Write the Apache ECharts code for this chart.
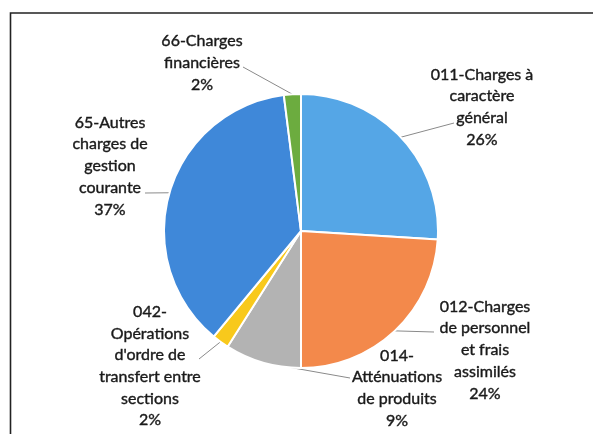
<!DOCTYPE html>
<html>
<head>
<meta charset="utf-8">
<script src="https://cdn.jsdelivr.net/npm/echarts@6/dist/echarts.min.js"></script>
<style>
  html, body { margin: 0; padding: 0; background: #fff; }
  #main { width: 593px; height: 434px; }
</style>
</head>
<body>
<div id="main"></div>
<script>
// libellés des postes (retours à la ligne comme sur le graphique)
const categories = [
    '011-Charges à\ncaractère\ngénéral',
    '012-Charges\nde personnel\net frais\nassimilés',
    '014-\nAtténuations\nde produits',
    '042-\nOpérations\nd\'ordre de\ntransfert entre\nsections',
    '65-Autres\ncharges de\ngestion\ncourante',
    '66-Charges\nfinancières'
];
// parts en %
const values = [26, 24, 9, 2, 37, 2];
const colors = ['#55a6e6', '#f3894b', '#b3b3b3', '#f8c91c', '#3f88d9', '#6cac3f'];

// position des étiquettes (centre du bloc) et bout du trait de rappel
const labelPos = [
    { x: 482, y: 107, end: [454, 123] },
    { x: 485, y: 350, end: [434, 332] },
    { x: 397, y: 388, end: [350, 378] },
    { x: 150, y: 366, end: [199, 359] },
    { x: 110, y: 166, end: [145, 193] },
    { x: 202, y: 63, end: [243, 67] }
];

const cx = 301, cy = 231, r = 137;
const total = values.reduce((a, b) => a + b, 0);

// point sur le bord du camembert au milieu de chaque part
function edgePoint(idx) {
    let before = 0;
    for (let i = 0; i < idx; i++) before += values[i];
    const mid = (before + values[idx] / 2) / total * Math.PI * 2;
    return [cx + Math.sin(mid) * r, cy - Math.cos(mid) * r];
}

const myChart = echarts.init(document.getElementById('main'));

const option = {
    animation: false,
    graphic: [{
        type: 'rect',
        shape: { x: 10.5, y: 13, width: 700, height: 500 },
        style: { fill: 'none', stroke: '#222', lineWidth: 1.6 },
        silent: true
    }],
    series: [{
        type: 'pie',
        center: [cx, cy],
        radius: r,
        startAngle: 90,
        clockwise: true,
        percentPrecision: 0,
        emphasis: { disabled: true },
        itemStyle: { borderColor: '#fff', borderWidth: 2 },
        label: {
            show: true,
            formatter: '{b}\n{d}%',
            fontFamily: 'Lato',
            fontSize: 16,
            lineHeight: 21.7,
            color: '#1a1a1a',
            textBorderColor: '#1a1a1a',
            textBorderWidth: 0.4,
            align: 'center'
        },
        labelLine: {
            show: true,
            lineStyle: { color: '#8a8a8a', width: 1 }
        },
        labelLayout: function (params) {
            const p = labelPos[params.dataIndex];
            return {
                x: p.x,
                y: p.y,
                align: 'center',
                verticalAlign: 'middle',
                labelLinePoints: [edgePoint(params.dataIndex), p.end, p.end]
            };
        },
        data: categories.map((name, i) => ({
            name: name,
            value: values[i],
            itemStyle: { color: colors[i] }
        }))
    }]
};
myChart.setOption(option);
</script>
</body>
</html>
